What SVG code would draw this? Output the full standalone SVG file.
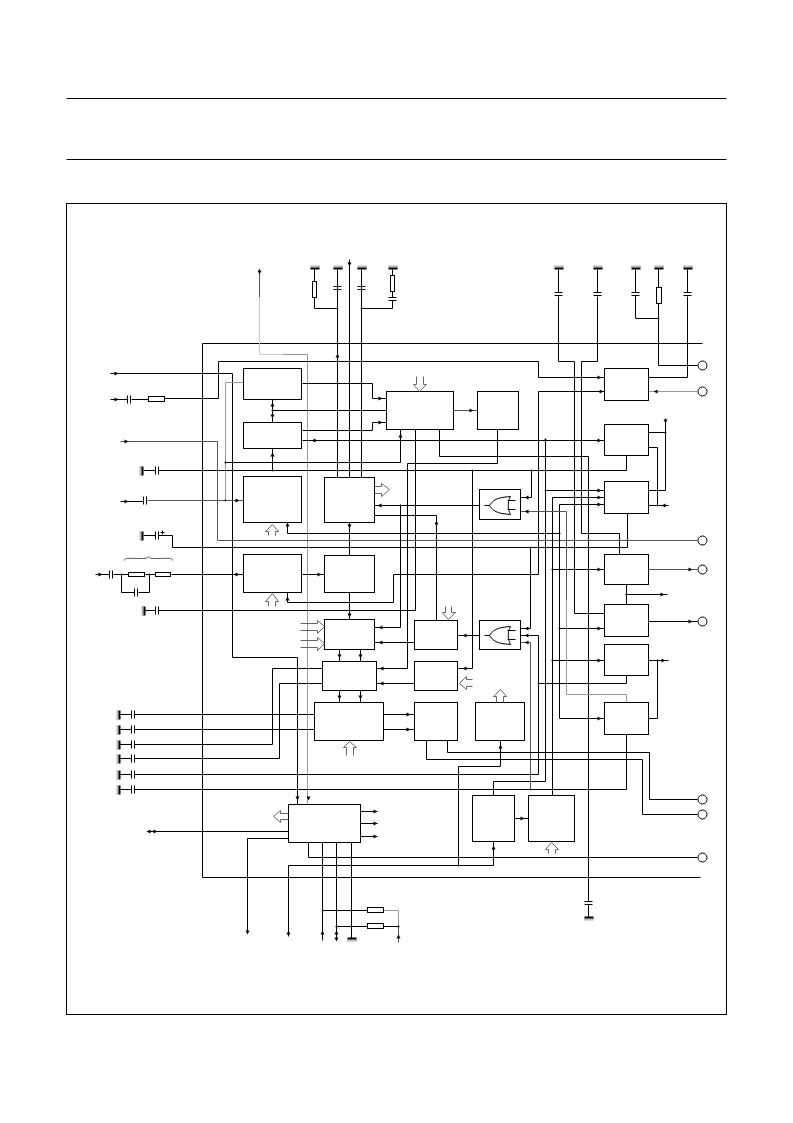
<svg xmlns="http://www.w3.org/2000/svg" xmlns:xlink="http://www.w3.org/1999/xlink" width="793" height="1123" viewBox="0 0 793 1123">
<style>
.w{fill:none;stroke:#000;stroke-width:1}
.d{fill:none;stroke:#555;stroke-width:1}
.g{fill:none;stroke:#999;stroke-width:1}
.l{fill:none;stroke:#ccc;stroke-width:1}
.h{fill:none;stroke:#666;stroke-width:1}
.b{fill:none;stroke:#000;stroke-width:1}
.t{fill:#fff;stroke:#000;stroke-width:1}
.k{fill:none;stroke:#777;stroke-width:2;stroke-dasharray:1 1}
</style>
<defs>
<path id="aR" d="M-2-2L2 0L-2 2z" fill="#000"/>
<path id="aL" d="M2-2L-2 0L2 2z" fill="#000"/>
<path id="aU" d="M-2 2L0-2L2 2z" fill="#000"/>
<path id="aD" d="M-2-2L0 2L2-2z" fill="#000"/>
<circle id="dot" r="1" fill="#000"/>
<g id="gT"><path class="k" d="M-4-2H5"/><rect x="-4" y="-1" width="9" height="2" fill="#000"/></g>
<g id="gL"><path class="k" d="M-2-4V5"/><rect x="-1" y="-4" width="2" height="9" fill="#000"/></g>
<g id="gB"><path class="k" d="M-4 2H5"/><rect x="-4" y="-1" width="9" height="2" fill="#000"/></g>
<path id="capV" d="M-4-2H4M-4 1H4" class="w"/>
<path id="capH" d="M-1-4V4M2-4V4" class="w"/>
<path id="or" d="M10 16C15 8 22 8 31 7C28 12 28 20 31 25C22 24 15 24 10 16ZM5 16H10M28 11H36M28 20H36" class="w"/>
</defs>
<g transform="translate(.5 .5)">
<g id="page"><path class="w" d="M66 98H726M66 159H726"/><rect class="b" x="66" y="203" width="660" height="811"/></g>
<g id="ic"><path class="w" d="M702 343H202V877H700"/></g>

<g id="connectors">
<path class="w" d="M314 269V281M314 297V308H337M337 269V477M349 259V477M361 269V477M361 308H392V300M392 269V275M392 291V297"/>
<path class="d" d="M259 268V297"/><path class="l" d="M259 297V354H282"/><path class="g" d="M282 354H307V804"/>
<path class="w" d="M110 373H232V657H297V804"/>
<path class="w" d="M110 399H127M131 399H148M164 398H218V361H538V377H604"/>
<path class="d" d="M120 441H217V540H697"/>
<path class="g" d="M243 382H225V500"/>
<path class="w" d="M225 462H400V429"/>
<path class="w" d="M143 470H155M158 470H626V455M272 470V448"/>
<path class="w" d="M120 501H143"/><path class="d" d="M147 500H243"/>
<path class="w" d="M143 535H155M158 535H172V547H627V513"/>
<path class="w" d="M302 383H372V398H386M302 430H372V422H386M272 399V422M272 410H386"/>
<path class="w" d="M302 440H604"/>
<path class="d" d="M453 410H477"/>
<path class="w" d="M287 522V533H559M415 429V610H158M144 610H155"/>
<path class="w" d="M439 429V456H588V901M588 904V917"/>
<path class="w" d="M497 429V463H407V668H376"/>
<path class="w" d="M374 505H479M400 505V627H374M374 515H436V620"/>
<path class="w" d="M374 642H414M376 683H414"/>
<path class="w" d="M479 635H457"/>
<path class="w" d="M472 470V668H457"/>
<path class="w" d="M531 470V497H520M530 547V628H520"/>
<path class="d" d="M520 642H530V789"/>
<path class="w" d="M520 635H538V774H134"/>
<path class="w" d="M538 391H604M538 391V574H393V602H287V592"/>
<path class="w" d="M545 439V781H493V795M545 490H604"/>
<path class="w" d="M552 497H604M552 497V795M552 569H604M552 660H604"/>
<path class="w" d="M559 504H604M559 504V718H604M559 628H604"/>
<path class="d" d="M520 511H566V600"/><path class="g" d="M566 600V694H626V702"/>
<path class="w" d="M558 269V292M558 296V361H574V613H604"/>
<path class="w" d="M597 269V292M597 296V361H581V533H619V554"/>
<path class="w" d="M635 269V292M635 295V318H658M658 269V287M658 303V365H697M687 269V292M687 296V377H648"/>
<path class="g" d="M697 391H648"/>
<path class="w" d="M648 432H665M665 418V490H648M648 447H657V505M648 505H668"/>
<path class="d" d="M648 569H697"/><path class="w" d="M648 621H697"/>
<path class="w" d="M626 584V604M625 594H667"/>
<path class="w" d="M648 660H668M657 660V718H648"/>
<path class="w" d="M626 675V683H538"/>
<path class="w" d="M626 734V789H134"/>
<path class="w" d="M134 714H314M134 729H314M134 744H272V668H322M134 758H279V683H322"/>
<path class="w" d="M119 714H131M119 729H131M119 744H131M119 758H131M119 774H131M119 789H131"/>
<path class="w" d="M383 714H414M383 729H414"/>
<path class="w" d="M426 740V759H642V814H697M447 740V752H649V799H697"/>
<path class="w" d="M500 740V766H458V865"/>
<path class="w" d="M288 936V865H493V841"/>
<path class="w" d="M308 842V857H697"/>
<path class="w" d="M514 818H528"/>
<path class="w" d="M95 574H109M113 574H128M145 574H155M171 574H243M121 574V592H134M138 592H149V574"/>
<path class="w" d="M302 574H324"/>
<path class="w" d="M349 522V555M349 592V619"/>
<path class="w" d="M339 649V661M360 649V661M339 690V702M360 690V702"/>
<path class="w" d="M147 831H288M288 838H247V933"/>
<path class="w" d="M360 811H377M360 823H377M360 836H377"/>
<path class="w" d="M322 842V940M336 842V940M351 842V938"/>
<path class="w" d="M322 910H367M336 926H367M383 926H398"/><path class="g" d="M383 910H398V926"/><path class="d" d="M398 926V942"/>
<path class="d" d="M124 560C124 557 128 558 140 558C145 558 147 558 148 556C149 558 151 558 156 558C168 558 172 557 172 560"/>
<use xlink:href="#aD" x="259" y="272"/><use xlink:href="#aU" x="337" y="355"/><use xlink:href="#aD" x="349" y="264"/>
<use xlink:href="#aR" x="116" y="373"/><use xlink:href="#aR" x="116" y="399"/><use xlink:href="#aR" x="126" y="441"/><use xlink:href="#aR" x="126" y="501"/>
<use xlink:href="#aU" x="272" y="404"/><use xlink:href="#aD" x="272" y="416"/><use xlink:href="#aU" x="272" y="454"/>
<use xlink:href="#aR" x="237" y="500"/><use xlink:href="#aD" x="287" y="526"/><use xlink:href="#aD" x="349" y="526"/>
<use xlink:href="#aR" x="380" y="398"/><use xlink:href="#aR" x="380" y="422"/><use xlink:href="#aL" x="313" y="440"/><use xlink:href="#aU" x="400" y="435"/>
<use xlink:href="#aL" x="379" y="505"/><use xlink:href="#aD" x="436" y="524"/><use xlink:href="#aL" x="526" y="497"/><use xlink:href="#aL" x="526" y="511"/>
<use xlink:href="#aR" x="599" y="377"/><use xlink:href="#aL" x="599" y="391"/><use xlink:href="#aL" x="655" y="391"/><use xlink:href="#aR" x="599" y="440"/>
<use xlink:href="#aD" x="665" y="421"/><use xlink:href="#aR" x="599" y="490"/><use xlink:href="#aR" x="599" y="497"/><use xlink:href="#aR" x="599" y="504"/>
<use xlink:href="#aL" x="663" y="505"/><use xlink:href="#aR" x="471" y="410"/>
<use xlink:href="#aR" x="100" y="574"/><use xlink:href="#aR" x="237" y="574"/><use xlink:href="#aR" x="319" y="574"/><use xlink:href="#aU" x="287" y="598"/>
<use xlink:href="#aD" x="349" y="615"/><use xlink:href="#aL" x="380" y="627"/><use xlink:href="#aL" x="380" y="642"/>
<use xlink:href="#aD" x="339" y="656"/><use xlink:href="#aD" x="360" y="656"/><use xlink:href="#aD" x="339" y="697"/><use xlink:href="#aD" x="360" y="697"/>
<use xlink:href="#aL" x="381" y="668"/><use xlink:href="#aL" x="381" y="683"/><use xlink:href="#aR" x="408" y="714"/><use xlink:href="#aR" x="408" y="729"/>
<use xlink:href="#aL" x="464" y="635"/><use xlink:href="#aL" x="526" y="628"/><use xlink:href="#aL" x="526" y="635"/><use xlink:href="#aL" x="526" y="642"/>
<use xlink:href="#aL" x="464" y="668"/><use xlink:href="#aU" x="500" y="746"/><use xlink:href="#aD" x="297" y="798"/><use xlink:href="#aD" x="308" y="798"/>
<use xlink:href="#aR" x="599" y="569"/><use xlink:href="#aR" x="690" y="569"/><use xlink:href="#aR" x="662" y="594"/><use xlink:href="#aR" x="599" y="628"/>
<use xlink:href="#aR" x="690" y="621"/><use xlink:href="#aR" x="599" y="660"/><use xlink:href="#aR" x="663" y="660"/><use xlink:href="#aR" x="599" y="718"/>
<use xlink:href="#aL" x="148" y="831"/><use xlink:href="#aR" x="155" y="831"/><use xlink:href="#aR" x="375" y="811"/><use xlink:href="#aR" x="375" y="823"/><use xlink:href="#aR" x="375" y="836"/>
<use xlink:href="#aD" x="247" y="932"/><use xlink:href="#aU" x="288" y="932"/><use xlink:href="#aU" x="322" y="932"/><use xlink:href="#aU" x="336" y="932"/><use xlink:href="#aD" x="336" y="939"/>
<use xlink:href="#aU" x="398" y="936"/><use xlink:href="#aU" x="493" y="847"/><use xlink:href="#aR" x="522" y="818"/>
<use xlink:href="#dot" x="225" y="462"/><use xlink:href="#dot" x="225" y="500"/><use xlink:href="#dot" x="272" y="470"/><use xlink:href="#dot" x="272" y="410"/>
<use xlink:href="#dot" x="472" y="470"/><use xlink:href="#dot" x="531" y="470"/><use xlink:href="#dot" x="530" y="547"/><use xlink:href="#dot" x="530" y="789"/>
<use xlink:href="#dot" x="400" y="505"/><use xlink:href="#dot" x="545" y="439"/><use xlink:href="#dot" x="545" y="490"/><use xlink:href="#dot" x="559" y="533"/>
<use xlink:href="#dot" x="552" y="569"/><use xlink:href="#dot" x="552" y="660"/><use xlink:href="#dot" x="559" y="628"/><use xlink:href="#dot" x="538" y="683"/>
<use xlink:href="#dot" x="458" y="865"/><use xlink:href="#dot" x="322" y="910"/><use xlink:href="#dot" x="336" y="926"/><use xlink:href="#dot" x="398" y="926"/>
<use xlink:href="#dot" x="121" y="574"/><use xlink:href="#dot" x="149" y="574"/><use xlink:href="#dot" x="337" y="308"/><use xlink:href="#dot" x="361" y="308"/><use xlink:href="#dot" x="658" y="318"/>
<use xlink:href="#dot" x="665" y="432"/><use xlink:href="#dot" x="657" y="505"/><use xlink:href="#dot" x="657" y="660"/><use xlink:href="#dot" x="626" y="594"/>
</g>

<g id="grounds">
<use xlink:href="#gT" x="314" y="268"/><use xlink:href="#gT" x="337" y="268"/><use xlink:href="#gT" x="361" y="268"/><use xlink:href="#gT" x="392" y="268"/>
<use xlink:href="#gT" x="558" y="268"/><use xlink:href="#gT" x="597" y="268"/><use xlink:href="#gT" x="635" y="268"/><use xlink:href="#gT" x="658" y="268"/><use xlink:href="#gT" x="687" y="268"/>
<use xlink:href="#gL" x="142" y="470"/><use xlink:href="#gL" x="142" y="535"/><use xlink:href="#gL" x="144" y="610"/>
<use xlink:href="#gL" x="119" y="714"/><use xlink:href="#gL" x="119" y="729"/><use xlink:href="#gL" x="119" y="744"/><use xlink:href="#gL" x="119" y="758"/><use xlink:href="#gL" x="119" y="774"/><use xlink:href="#gL" x="119" y="789"/>
<use xlink:href="#gB" x="351" y="938"/><use xlink:href="#gB" x="588" y="917"/>
</g>
<g id="capacitors">
<use xlink:href="#capV" x="337" y="288"/><use xlink:href="#capV" x="361" y="288"/><use xlink:href="#capV" x="392" y="299"/><use xlink:href="#capV" x="558" y="294"/><use xlink:href="#capV" x="597" y="294"/><use xlink:href="#capV" x="635" y="294"/><use xlink:href="#capV" x="687" y="294"/><use xlink:href="#capV" x="588" y="903"/>
<use xlink:href="#capH" x="128" y="399"/><use xlink:href="#capH" x="144" y="500"/><use xlink:href="#capH" x="156" y="470"/><use xlink:href="#capH" x="156" y="535"/><use xlink:href="#capH" x="156" y="610"/><use xlink:href="#capH" x="110" y="574"/><use xlink:href="#capH" x="135" y="592"/>
<use xlink:href="#capH" x="132" y="714"/><use xlink:href="#capH" x="132" y="729"/><use xlink:href="#capH" x="132" y="744"/><use xlink:href="#capH" x="132" y="758"/><use xlink:href="#capH" x="132" y="774"/><use xlink:href="#capH" x="132" y="789"/>
<path class="w" d="M160 532H164M162 530V534"/>
</g>
<g id="resistors">
<rect class="t" x="312" y="281" width="4" height="16"/><rect class="t" x="390" y="275" width="4" height="16"/><rect class="t" x="656" y="287" width="5" height="16"/>
<rect class="t" x="148" y="396" width="16" height="5"/><rect class="t" x="128" y="572" width="16" height="4"/><rect class="t" x="155" y="572" width="15" height="4"/>
<rect class="t" x="367" y="907" width="16" height="5"/><rect class="t" x="367" y="923" width="16" height="5"/>
</g>

<g id="b1"><rect class="b" x="243" y="368" width="58" height="31"/></g>
<g id="b2"><rect class="b" x="243" y="422" width="58" height="26"/></g>
<g id="b3"><rect class="b" x="243" y="476" width="58" height="46"/></g>
<g id="b4"><rect class="b" x="324" y="477" width="50" height="45"/></g>
<g id="b5"><rect class="b" x="386" y="391" width="67" height="38"/></g>
<g id="b6"><rect class="b" x="477" y="391" width="41" height="38"/></g>
<g id="r1"><rect class="b" x="604" y="368" width="44" height="32"/></g>
<g id="r2"><rect class="b" x="604" y="424" width="44" height="31"/></g>
<g id="r3"><rect class="b" x="604" y="481" width="44" height="32"/></g>
<g id="r4"><rect class="b" x="604" y="554" width="44" height="30"/></g>
<g id="r5"><rect class="b" x="604" y="604" width="44" height="32"/></g>
<g id="r6"><rect class="b" x="604" y="644" width="44" height="31"/></g>
<g id="r7"><rect class="b" x="604" y="702" width="44" height="32"/></g>
<g id="or1"><rect class="b" x="479" y="489" width="41" height="30"/><use xlink:href="#or" x="479" y="489"/></g>
<g id="or2"><rect class="b" x="479" y="620" width="41" height="29"/><use xlink:href="#or" x="479" y="619"/></g>
<g id="m1"><rect class="b" x="414" y="620" width="43" height="29"/></g>
<g id="m2"><rect class="b" x="414" y="661" width="43" height="29"/></g>
<g id="m3"><rect class="b" x="414" y="702" width="43" height="38"/></g>
<g id="m4"><rect class="b" x="475" y="702" width="49" height="38"/></g>
<g id="b7"><rect class="b" x="243" y="554" width="58" height="38"/></g>
<g id="b8"><rect class="b" x="324" y="555" width="50" height="37"/></g>
<g id="c1"><rect class="b" x="324" y="619" width="50" height="30"/></g>
<g id="c2"><rect class="b" x="322" y="661" width="54" height="29"/></g>
<g id="c3"><rect class="b" x="314" y="702" width="69" height="38"/></g>
<g id="d"><rect class="b" x="288" y="804" width="72" height="38"/></g>
<g id="e1"><rect class="b" x="472" y="795" width="42" height="46"/></g>
<g id="e2"><rect class="b" x="528" y="795" width="46" height="46"/></g>

<g id="buses">
<path class="h" d="M268 535V531H265L272 524L278 531H275V535"/>
<path class="h" d="M268 606V601H265L272 593L278 601H275V606"/>
<path class="h" d="M346 755V747H343L349 741L356 747H353V755"/>
<path class="h" d="M374 486H381V483L389 489L381 496V493H374"/>
<path class="h" d="M416 376V384H413L419 391L426 384H423V376"/>
<path class="h" d="M300 623H317V620L324 626L317 633V630H300"/>
<path class="h" d="M300 640H317V637L324 643L317 650V647H300"/>
<path class="h" d="M445 606V612H442L448 619L455 612H451V606"/>
<path class="h" d="M472 679H466V676L459 683L466 689V686H472"/>
<path class="h" d="M496 702V696H493L500 689L506 696H503V702"/>
<path class="h" d="M288 813H280V810L273 816L280 822V819H288"/>
<path class="h" d="M548 853V849H545L551 842L558 849H555V853"/>
</g>
<g id="pins">
<circle class="t" cx="702" cy="365" r="4.5"/><circle class="t" cx="702" cy="391" r="4.5"/><circle class="t" cx="702" cy="540" r="4.5"/><circle class="t" cx="702" cy="569" r="4.5"/><circle class="t" cx="702" cy="621" r="4.5"/><circle class="t" cx="702" cy="799" r="4.5"/><circle class="t" cx="702" cy="814" r="4.5"/><circle class="t" cx="702" cy="857" r="4.5"/>
</g>
</g>
</svg>
